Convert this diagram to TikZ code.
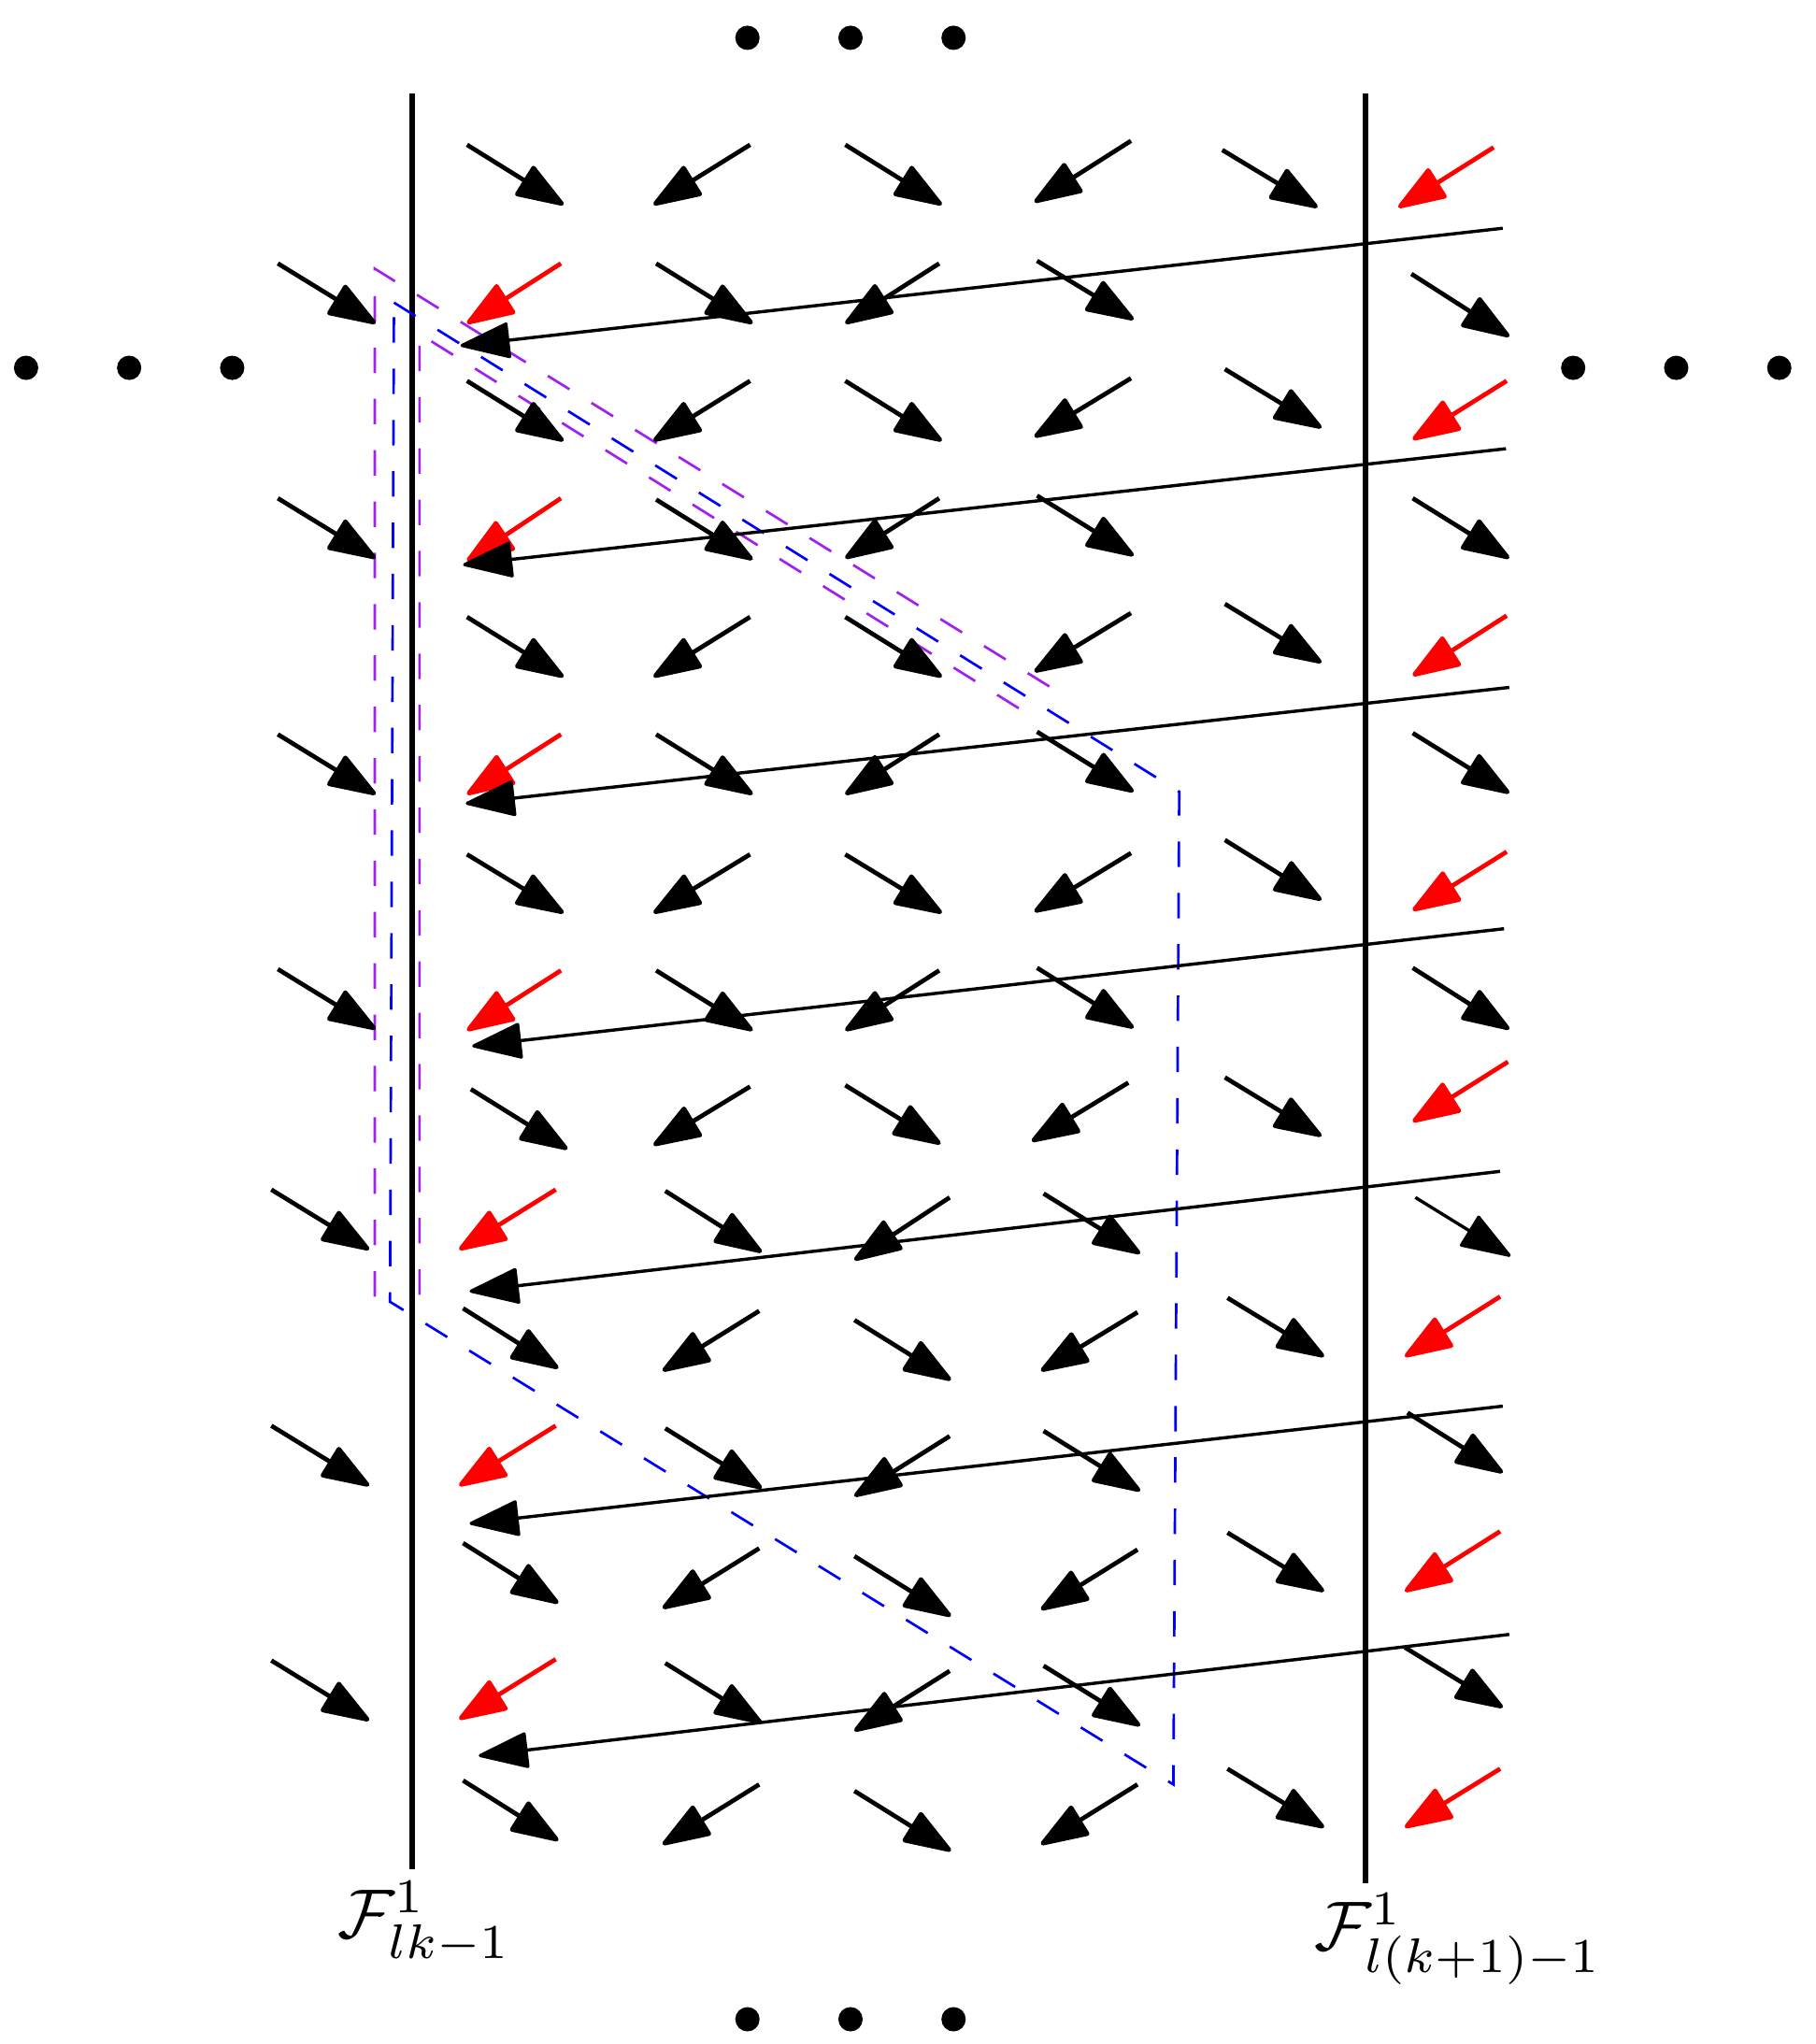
\documentclass[tikz,border=0pt]{standalone}
\usetikzlibrary{arrows.meta}
\definecolor{vio}{RGB}{160,32,240}
\tikzset{
  sarrow/.style={line width=0.58pt,-{Triangle[length=6.8pt,width=4.7pt,round]}},
  larrow/.style={line width=0.42pt,-{Triangle[length=6.9pt,width=4.8pt,round]}},
  wall/.style={line width=0.74pt},
  dsh/.style={line width=0.33pt,dash pattern=on 3.35pt off 3.4pt},
  dotm/.style={fill=black},
  lab/.style={anchor=base west,inner sep=0,scale=0.915}
}
\begin{document}
\begin{tikzpicture}[x=0.1716pt,y=-0.1716pt]
\useasboundingbox (0,0) rectangle (1392,1567);
% dots
\foreach \p in {(573,29),(652,29),(731,29),(573,1548),(652,1548),(731,1548),(20,282),(99,282),(178,282),(1206,282),(1285,282),(1364,282)}
  \fill[dotm] \p circle[radius=1.6pt];
% walls
\draw[wall] (316,72) -- (316,1433);
\draw[wall] (1047,72) -- (1047,1444);
% labels
\node[lab] (L1) at (258,1486) {$\mathcal{F}^1_{lk-1}$};
\node[lab] (L2) at (1007,1495) {$\mathcal{F}^1_{l(k+1)-1}$};
% blue parallelogram
\draw[dsh,blue] (302,232) -- (904,607) -- (899.5,1368) -- (299,998) -- cycle;
% purple
\draw[dsh,vio] (287.3,994) -- (287.3,206) -- (814.3,532.4);
\draw[dsh,vio] (321.6,992.6) -- (321.6,256) -- (792.8,550.4);
% black short arrows
\foreach \x/\y/\u/\v in {
 358/111/432/157, 575/111/501/157, 648/111/722/157, 867/108/793/155, 937/115/1010/159,
 358/292/432/338, 575/292/501/338, 648/292/722/338, 867/290/793/335, 939/283/1013/328,
 358/473/432/519, 575/473/501/519, 648/473/722/519, 867/470/793/515, 939/463/1013/508,
 358/655/432/700, 575/655/501/700, 648/655/722/700, 867/654/793/699, 939/644/1013/690,
 361/835/435/881, 575/833/501/878, 648/832/721/877, 865/830/791/875, 939/826/1013/871,
 355/1003/428/1049, 582/1005/508/1051, 655/1012/729/1058, 872/1006/798/1051, 941/995/1015/1040,
 355/1183/428/1229, 582/1187/508/1233, 655/1193/729/1239, 872/1188/798/1234, 941/1175/1015/1220,
 355/1365/428/1411, 582/1368/508/1414, 655/1373/729/1419, 872/1368/798/1414, 941/1356/1015/1401,
 213/202/288/248, 503/202/577/248, 720/202/648/248, 795/200/869/245, 1082/210/1157/258,
 213/382/288/428, 503/383/577/429, 720/382/648/428, 795/380/869/426, 1083/382/1157/428,
 213/563/288/609, 503/563/577/609, 720/563/648/609, 795/561/869/607, 1083/562/1157/608,
 213/743/288/789, 503/744/577/790, 720/744/648/790, 795/742/869/788, 1083/742/1157/789,
 208/912/283/958, 510/913/584/960, 728/918/655/966, 800/915/874/961,
 208/1093/283/1139, 510/1095/584/1141, 728/1101/655/1147, 800/1097/874/1143, 1079/1083/1152/1129,
 208/1273/283/1319, 510/1275/584/1321, 728/1281/655/1327, 800/1277/874/1323, 1077/1263/1152/1309}
  \draw[sarrow] (\x,\y) -- (\u,\v);
\draw[larrow] (1085,918) -- (1158,963);
% red arrows
\foreach \x/\y/\u/\v in {
 1145/113/1072/159, 1155/292/1083/337, 1155/472/1083/518, 1155/653/1083/698,
 1156/814/1083/860, 1150/994/1077/1040, 1150/1174/1077/1220, 1150/1356/1077/1401,
 430/202/358/248, 430/382/358/430, 430/563/358/609, 430/744/358/790,
 426/912/352/958, 426/1093/352/1139, 426/1272/352/1318}
  \draw[sarrow,red] (\x,\y) -- (\u,\v);
% long arrows
\foreach \x/\y/\u/\v in {
 1152/175/353/265, 1154.5/344/355/433, 1157/527/357/616, 1153/712/362/802,
 1150/898/360/990, 1152/1078/360/1168, 1157/1253/367/1346}
  \draw[larrow] (\x,\y) -- (\u,\v);
\end{tikzpicture}
\end{document}
